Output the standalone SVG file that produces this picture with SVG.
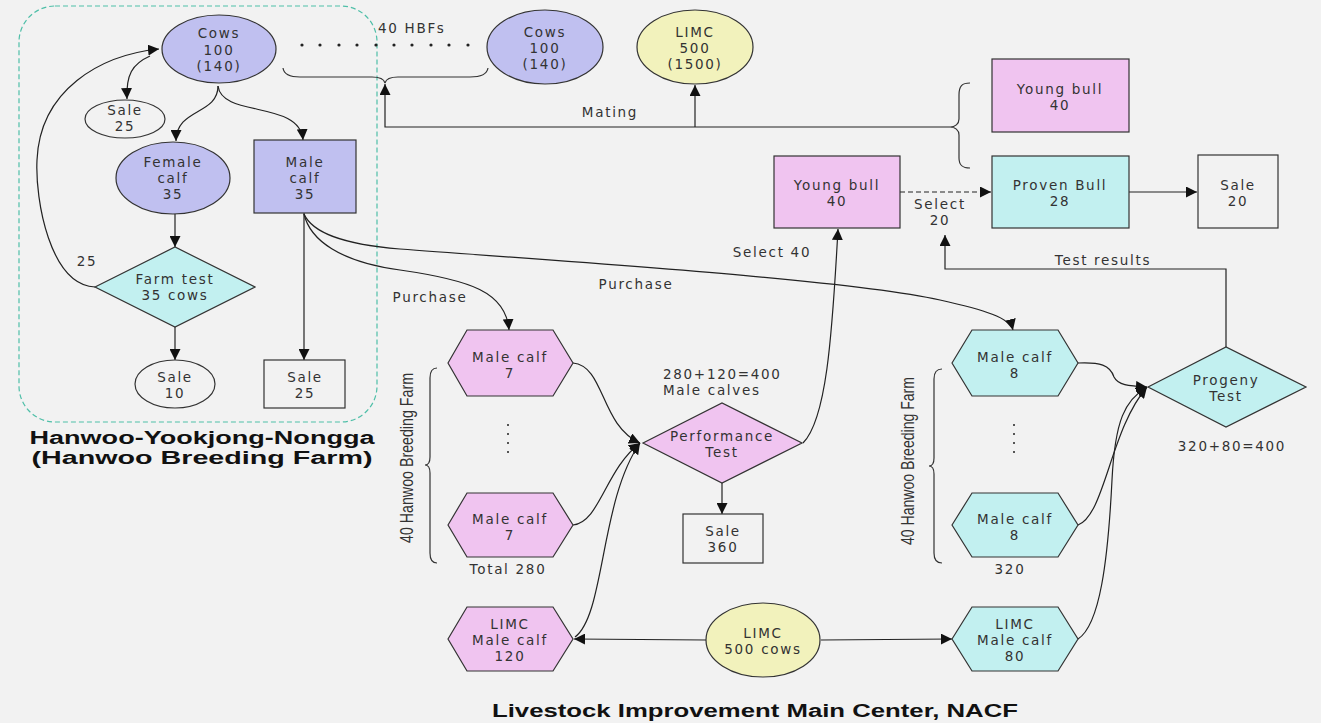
<svg xmlns="http://www.w3.org/2000/svg" width="1321" height="723" viewBox="0 0 1321 723">
<defs>
<marker id="ah" viewBox="0 0 10 10" refX="10" refY="5" markerWidth="11" markerHeight="11" markerUnits="userSpaceOnUse" orient="auto"><path d="M0,0 L10,5 L0,10 z" fill="#111"/></marker>
<style>
.n{stroke:#333;stroke-width:1.2}
.lav{fill:#c0c0f0}.pink{fill:#f0c4f0}.cyan{fill:#c2f0f0}.yel{fill:#f2f2bc}.wh{fill:#f2f2f2}
text{font-family:"DejaVu Sans","Liberation Sans",sans-serif;font-size:13.5px;fill:#333;letter-spacing:1.7px}
.c{text-anchor:middle}
.t{font-family:"Liberation Sans",Arial,sans-serif;font-weight:bold;font-size:17.5px;fill:#111;letter-spacing:0}
.rot{font-family:"Liberation Sans",Arial,sans-serif;font-size:18px;letter-spacing:0}
.ln{fill:none;stroke:#222;stroke-width:1.2}
.a{marker-end:url(#ah)}
.br{fill:none;stroke:#333;stroke-width:1.2}
</style>
</defs>
<rect width="1321" height="723" fill="#f2f2f2"/>
<rect x="19" y="6" width="358" height="416" rx="36" fill="none" stroke="#4fbfa8" stroke-width="1.2" stroke-dasharray="5,3"/>

<g id="connectors">
<path class="ln a" d="M95 287 C50 285 35 200 37 160 C40 90 100 55 159 49"/>
<path class="ln a" d="M150 56 C132 64 126 75 127 99"/>
<path class="ln a" d="M218 86 C218 115 176 108 176 141"/>
<path class="ln a" d="M218 86 C222 118 300 100 303 140"/>
<path class="ln a" d="M175 214 L175 247"/>
<path class="ln a" d="M175 327 L175 360"/>
<path class="ln a" d="M304 213 L304 360"/>
<path class="ln a" d="M950 127 L385 127 L385 84"/>
<path class="ln a" d="M695 127 L695 85"/>
<path class="ln a" d="M304 214 C310 240 340 262 400 270 C470 280 506 292 509 330"/>
<path class="ln a" d="M304 214 C312 232 340 244 400 249 C600 264 850 280 940 300 C985 310 1010 318 1013 330"/>
<path class="ln a" d="M573 363 C605 366 600 425 640 443"/>
<path class="ln a" d="M573 525 C600 522 605 470 640 443"/>
<path class="ln a" d="M575 637 C605 615 600 500 640 443"/>
<path class="ln a" d="M722 483 L722 514"/>
<path class="ln a" d="M803 443 C826 420 832 340 838 229"/>
<path class="ln a" d="M706 640 L574 639"/>
<path class="ln a" d="M821 640 L952 639"/>
<path class="ln a" d="M1078 363 C1100 362 1110 365 1114 377 C1118 385 1128 386 1147 387"/>
<path class="ln a" d="M1078 525 C1105 515 1110 430 1147 387"/>
<path class="ln a" d="M1078 639 C1100 625 1108 560 1112 480 C1115 420 1125 400 1147 387"/>
<path class="ln a" d="M1226 347 L1226 269 L945 269 L945 235"/>
<path class="ln a" d="M900 192 L991 192" stroke-dasharray="5,3"/>
<path class="ln a" d="M1129 192 L1197 192"/>
<path class="br" d="M283 68 C284 75 290 77 300 77 L372 77 C380 77 384 79 385 83 C386 79 390 77 398 77 L470 77 C480 77 487 74 488 68"/>
<path class="br" d="M970 83 C962 83 959 86 959 95 L959 119 C959 124 955 127 950 127 C955 127 959 130 959 135 L959 158 C959 165 962 168 970 168"/>
<path class="br" d="M437 368 C432 368 430 371 430 378 L430 457 C430 462 428 465 425 465 C428 465 430 468 430 473 L430 553 C430 560 432 563 437 563"/>
<path class="br" d="M942 369 C937 369 934 372 934 379 L934 458 C934 463 932 466 929 466 C932 466 934 469 934 474 L934 553 C934 560 937 563 942 563"/>
</g>

<g id="hbf-dots" fill="#222">
<circle cx="302" cy="45" r="1.6"/><circle cx="320" cy="45" r="1.6"/><circle cx="339" cy="45" r="1.6"/><circle cx="357" cy="45" r="1.6"/><circle cx="376" cy="45" r="1.6"/><circle cx="394" cy="45" r="1.6"/><circle cx="412" cy="45" r="1.6"/><circle cx="431" cy="45" r="1.6"/><circle cx="449" cy="45" r="1.6"/><circle cx="468" cy="45" r="1.6"/>
<circle cx="508" cy="425" r="1"/><circle cx="508" cy="434" r="1"/><circle cx="508" cy="443" r="1"/><circle cx="508" cy="452" r="1"/>
<circle cx="1014" cy="425" r="1"/><circle cx="1014" cy="434" r="1"/><circle cx="1014" cy="443" r="1"/><circle cx="1014" cy="452" r="1"/>
</g>

<g id="cows1"><ellipse class="n lav" cx="219" cy="49" rx="57" ry="34"/><text class="c" x="219" y="38">Cows</text><text class="c" x="219" y="55">100</text><text class="c" x="219" y="71">(140)</text></g>
<g id="sale25a"><ellipse class="n wh" cx="125" cy="119" rx="40" ry="19"/><text class="c" x="125" y="115">Sale</text><text class="c" x="125" y="131">25</text></g>
<g id="female"><ellipse class="n lav" cx="173" cy="178" rx="57" ry="36"/><text class="c" x="173" y="167">Female</text><text class="c" x="173" y="183">calf</text><text class="c" x="173" y="199">35</text></g>
<g id="male"><rect class="n lav" x="254" y="140" width="102" height="73"/><text class="c" x="305" y="167">Male</text><text class="c" x="305" y="183">calf</text><text class="c" x="305" y="199">35</text></g>
<g id="farmtest"><polygon class="n cyan" points="95,287 175,247 255,287 175,327"/><text class="c" x="175" y="284">Farm test</text><text class="c" x="175" y="300">35 cows</text></g>
<g id="sale10"><ellipse class="n wh" cx="175" cy="384" rx="40" ry="24"/><text class="c" x="175" y="382">Sale</text><text class="c" x="175" y="398">10</text></g>
<g id="sale25b"><rect class="n wh" x="264" y="360" width="81" height="48"/><text class="c" x="305" y="382">Sale</text><text class="c" x="305" y="398">25</text></g>

<g id="cows2"><ellipse class="n lav" cx="545" cy="47" rx="58" ry="37"/><text class="c" x="545" y="37">Cows</text><text class="c" x="545" y="53">100</text><text class="c" x="545" y="69">(140)</text></g>
<g id="limc1500"><ellipse class="n yel" cx="695" cy="47" rx="58" ry="37"/><text class="c" x="695" y="37">LIMC</text><text class="c" x="695" y="53">500</text><text class="c" x="695" y="69">(1500)</text></g>

<g id="youngbull-top"><rect class="n pink" x="992" y="59" width="137" height="73"/><text class="c" x="1060" y="94">Young bull</text><text class="c" x="1060" y="110">40</text></g>
<g id="provenbull"><rect class="n cyan" x="992" y="156" width="137" height="72"/><text class="c" x="1060" y="190">Proven Bull</text><text class="c" x="1060" y="206">28</text></g>
<g id="youngbull-mid"><rect class="n pink" x="774" y="156" width="126" height="72"/><text class="c" x="837" y="190">Young bull</text><text class="c" x="837" y="206">40</text></g>
<g id="sale20"><rect class="n wh" x="1198" y="155" width="80" height="73"/><text class="c" x="1238" y="190">Sale</text><text class="c" x="1238" y="206">20</text></g>

<g id="mc7a"><polygon class="n pink" points="448,363 467,330 553,330 573,363 553,396 467,396"/><text class="c" x="510" y="362">Male calf</text><text class="c" x="510" y="378">7</text></g>
<g id="mc7b"><polygon class="n pink" points="448,525 467,493 553,493 573,525 553,557 467,557"/><text class="c" x="510" y="524">Male calf</text><text class="c" x="510" y="540">7</text></g>
<g id="limc120"><polygon class="n pink" points="448,639 467,607 553,607 573,639 553,671 467,671"/><text class="c" x="510" y="629">LIMC</text><text class="c" x="510" y="645">Male calf</text><text class="c" x="510" y="661">120</text></g>
<g id="perftest"><polygon class="n pink" points="643,443 722,403 802,443 722,483"/><text class="c" x="722" y="441">Performance</text><text class="c" x="722" y="457">Test</text></g>
<g id="sale360"><rect class="n wh" x="683" y="514" width="80" height="49"/><text class="c" x="723" y="536">Sale</text><text class="c" x="723" y="552">360</text></g>
<g id="limc500"><ellipse class="n yel" cx="763" cy="640" rx="57" ry="37"/><text class="c" x="763" y="638">LIMC</text><text class="c" x="763" y="654">500 cows</text></g>

<g id="mc8a"><polygon class="n cyan" points="952,363 972,330 1058,330 1078,363 1058,396 972,396"/><text class="c" x="1015" y="362">Male calf</text><text class="c" x="1015" y="378">8</text></g>
<g id="mc8b"><polygon class="n cyan" points="952,525 972,493 1058,493 1078,525 1058,557 972,557"/><text class="c" x="1015" y="524">Male calf</text><text class="c" x="1015" y="540">8</text></g>
<g id="limc80"><polygon class="n cyan" points="952,639 972,607 1058,607 1078,639 1058,671 972,671"/><text class="c" x="1015" y="629">LIMC</text><text class="c" x="1015" y="645">Male calf</text><text class="c" x="1015" y="661">80</text></g>
<g id="progeny"><polygon class="n cyan" points="1148,387 1226,347 1306,387 1226,427"/><text class="c" x="1226" y="385">Progeny</text><text class="c" x="1226" y="401">Test</text></g>

<g id="labels">
<text x="378" y="33">40 HBFs</text>
<text class="c" x="610" y="117">Mating</text>
<text class="c" x="87" y="266">25</text>
<text class="c" x="430" y="302">Purchase</text>
<text class="c" x="636" y="289">Purchase</text>
<text class="c" x="772" y="257">Select 40</text>
<text class="c" x="940" y="209">Select</text>
<text class="c" x="940" y="225">20</text>
<text class="c" x="1103" y="265">Test results</text>
<text x="663" y="379">280+120=400</text>
<text x="663" y="395">Male calves</text>
<text class="c" x="508" y="574">Total 280</text>
<text class="c" x="1010" y="574">320</text>
<text class="c" x="1232" y="451">320+80=400</text>
<text class="rot c" transform="translate(413 458) rotate(-90)" textLength="170" lengthAdjust="spacingAndGlyphs">40 Hanwoo Breeding Farm</text>
<text class="rot c" transform="translate(914 461) rotate(-90)" textLength="168" lengthAdjust="spacingAndGlyphs">40 Hanwoo Breeding Farm</text>
<text class="t c" x="202" y="444" textLength="345" lengthAdjust="spacingAndGlyphs">Hanwoo-Yookjong-Nongga</text>
<text class="t c" x="202" y="464" textLength="341" lengthAdjust="spacingAndGlyphs">(Hanwoo Breeding Farm)</text>
<text class="t c" x="755" y="717" textLength="526" lengthAdjust="spacingAndGlyphs">Livestock Improvement Main Center, NACF</text>
</g>
</svg>
